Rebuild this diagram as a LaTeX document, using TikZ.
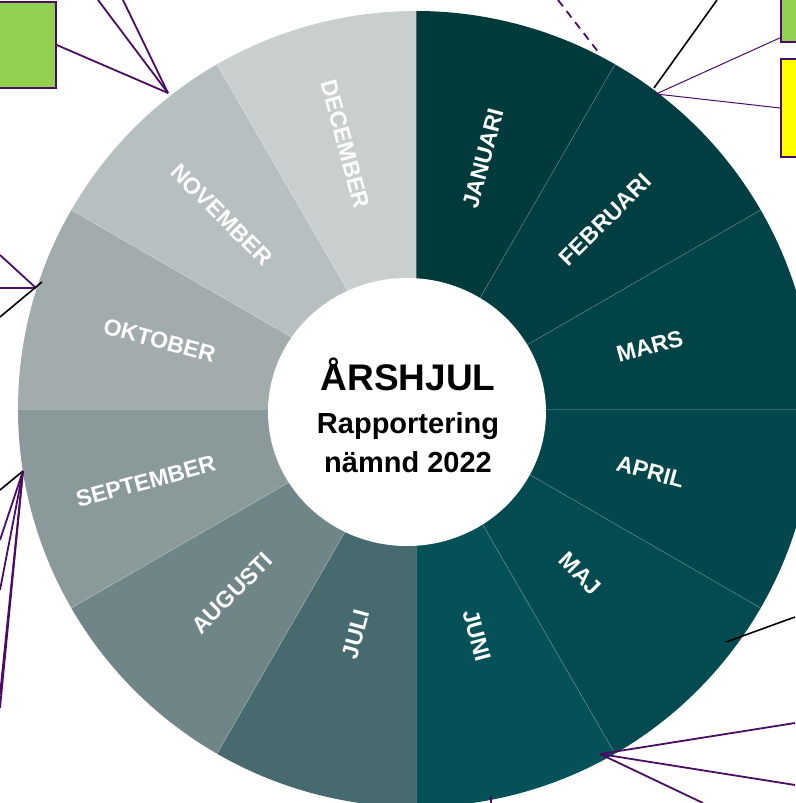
\documentclass[tikz,border=0pt]{standalone}
\usepackage{fontspec}
\setmainfont{Liberation Sans}
\usetikzlibrary{calc}
\definecolor{lila}{HTML}{4A0D63}
\definecolor{gron}{HTML}{92D050}
\definecolor{gul}{HTML}{FFFF00}
\definecolor{mJan}{HTML}{013A3A}
\definecolor{mFeb}{HTML}{013E42}
\definecolor{mMar}{HTML}{024347}
\definecolor{mApr}{HTML}{02474B}
\definecolor{mMaj}{HTML}{034B50}
\definecolor{mJun}{HTML}{045257}
\definecolor{mJul}{HTML}{466A6E}
\definecolor{mAug}{HTML}{6F8587}
\definecolor{mSep}{HTML}{8A9A9B}
\definecolor{mOkt}{HTML}{A2ACAD}
\definecolor{mNov}{HTML}{B7BFC0}
\definecolor{mDec}{HTML}{C9CFCF}
\tikzset{
  month/.style={text=white, inner sep=0pt, font=\bfseries\fontsize{23}{23}\selectfont},
  ruta/.style={draw=lila, line width=1.5, inner sep=0pt},
  tunn/.style={lila, line width=1},
  tjock/.style={lila, line width=1.8},
  svart/.style={black, line width=1.6}
}

\begin{document}
\begin{tikzpicture}[x=1pt,y=1pt]
	%%%%% START %%%%%
	\useasboundingbox (-416,-394) rectangle (379,409);
	
	% sectors
	\foreach \c [count=\i from 0] in {mJan,mFeb,mMar,mApr,mMaj,mJun,mJul,mAug,mSep,mOkt,mNov,mDec}{
		\pgfmathsetmacro{\a}{90-30*\i}
		\pgfmathsetmacro{\b}{\a-30}
		\fill[\c] (0,0) -- (\a:398) arc (\a:\b:398) -- cycle;
	}
	\foreach \i in {0,...,11}
		\draw[white, opacity=0.2, line width=0.8] (0,0) -- ({90-30*\i}:398);
	
	% month names
	\foreach \m [count=\i from 0] in {JANUARI,FEBRUARI,MARS,APRIL,MAJ,JUNI}{
		\pgfmathsetmacro{\t}{75-30*\i}
		\node[month, rotate=\t, anchor=west] (m\i) at (\t:208) {\m};
	}
	\foreach \m [count=\i from 6] in {JULI,AUGUSTI,SEPTEMBER,OKTOBER,NOVEMBER,DECEMBER}{
		\pgfmathsetmacro{\t}{75-30*\i}
		\node[month, rotate=\t+180, anchor=east] (m\i) at (\t:208) {\m};
	}
	
	% centre
	\fill[white] (-9,-3) ellipse (139 and 134);
	\node[anchor=base, font=\bfseries\fontsize{37}{37}\selectfont] (rubrik) at (-8,18) {ÅRSHJUL};
	\node[anchor=base, font=\bfseries\fontsize{29}{29}\selectfont] (rapp) at (-8,-24) {Rapportering};
	\node[anchor=base, font=\bfseries\fontsize{29}{29}\selectfont] (namnd) at (-8,-63) {nämnd 2022};
	
	% boxes
	\node[ruta, fill=gron, minimum width=66, minimum height=86] (rutaNV) at (-393,364) {};
	\node[ruta, fill=gron, minimum width=54, minimum height=54] (rutaNO) at (392,394) {};
	\node[ruta, fill=gul, minimum width=54, minimum height=98] (rutaGul) at (392,301) {};
	
	% points on the rim
	\coordinate (rimNV) at (-248,316);
	\coordinate (rimNO) at (240,315);
	\coordinate (rimV) at (-380,121);
	\coordinate (rimSV) at (-393,-62);
	\coordinate (rimSO) at (184,-345);
	
	% top left
	\draw[tjock] (rutaNV.east) -- (rimNV);
	\draw[tjock] (-318,409) -- (rimNV);
	\draw[tjock] (-293,409) -- (rimNV);
	
	% top right
	\draw[lila, line width=1.8, dash pattern=on 8 off 6] (142,409) -- (183,356);
	\draw[svart] (301,409) -- (238,321);
	\draw[tunn] ($(rutaNO.south west)+(0,5)$) -- (rimNO);
	\draw[tunn] (rutaGul.west) -- (rimNO);
	
	% left
	\draw[tjock] (-416,154) -- (rimV);
	\draw[tjock] (-416,121) -- (rimV);
	\draw[svart] (-416,92) -- (-374,127);
	
	\draw[svart] (-416,-81) -- (rimSV);
	\foreach \y in {-131,-181,-286,-299}
		\draw[tjock] (rimSV) -- (-416,\y);
	
	% bottom right
	\draw[svart] (310,-233) -- (379,-208);
	\draw[tjock] (rimSO) -- (379,-314);
	\draw[tjock] (rimSO) -- (379,-376);
	\draw[tjock] (rimSO) -- (287,-394);
	\draw[tjock] (75,-387) -- (75,-394);
	%%%%% END %%%%%
\end{tikzpicture}
\end{document}
